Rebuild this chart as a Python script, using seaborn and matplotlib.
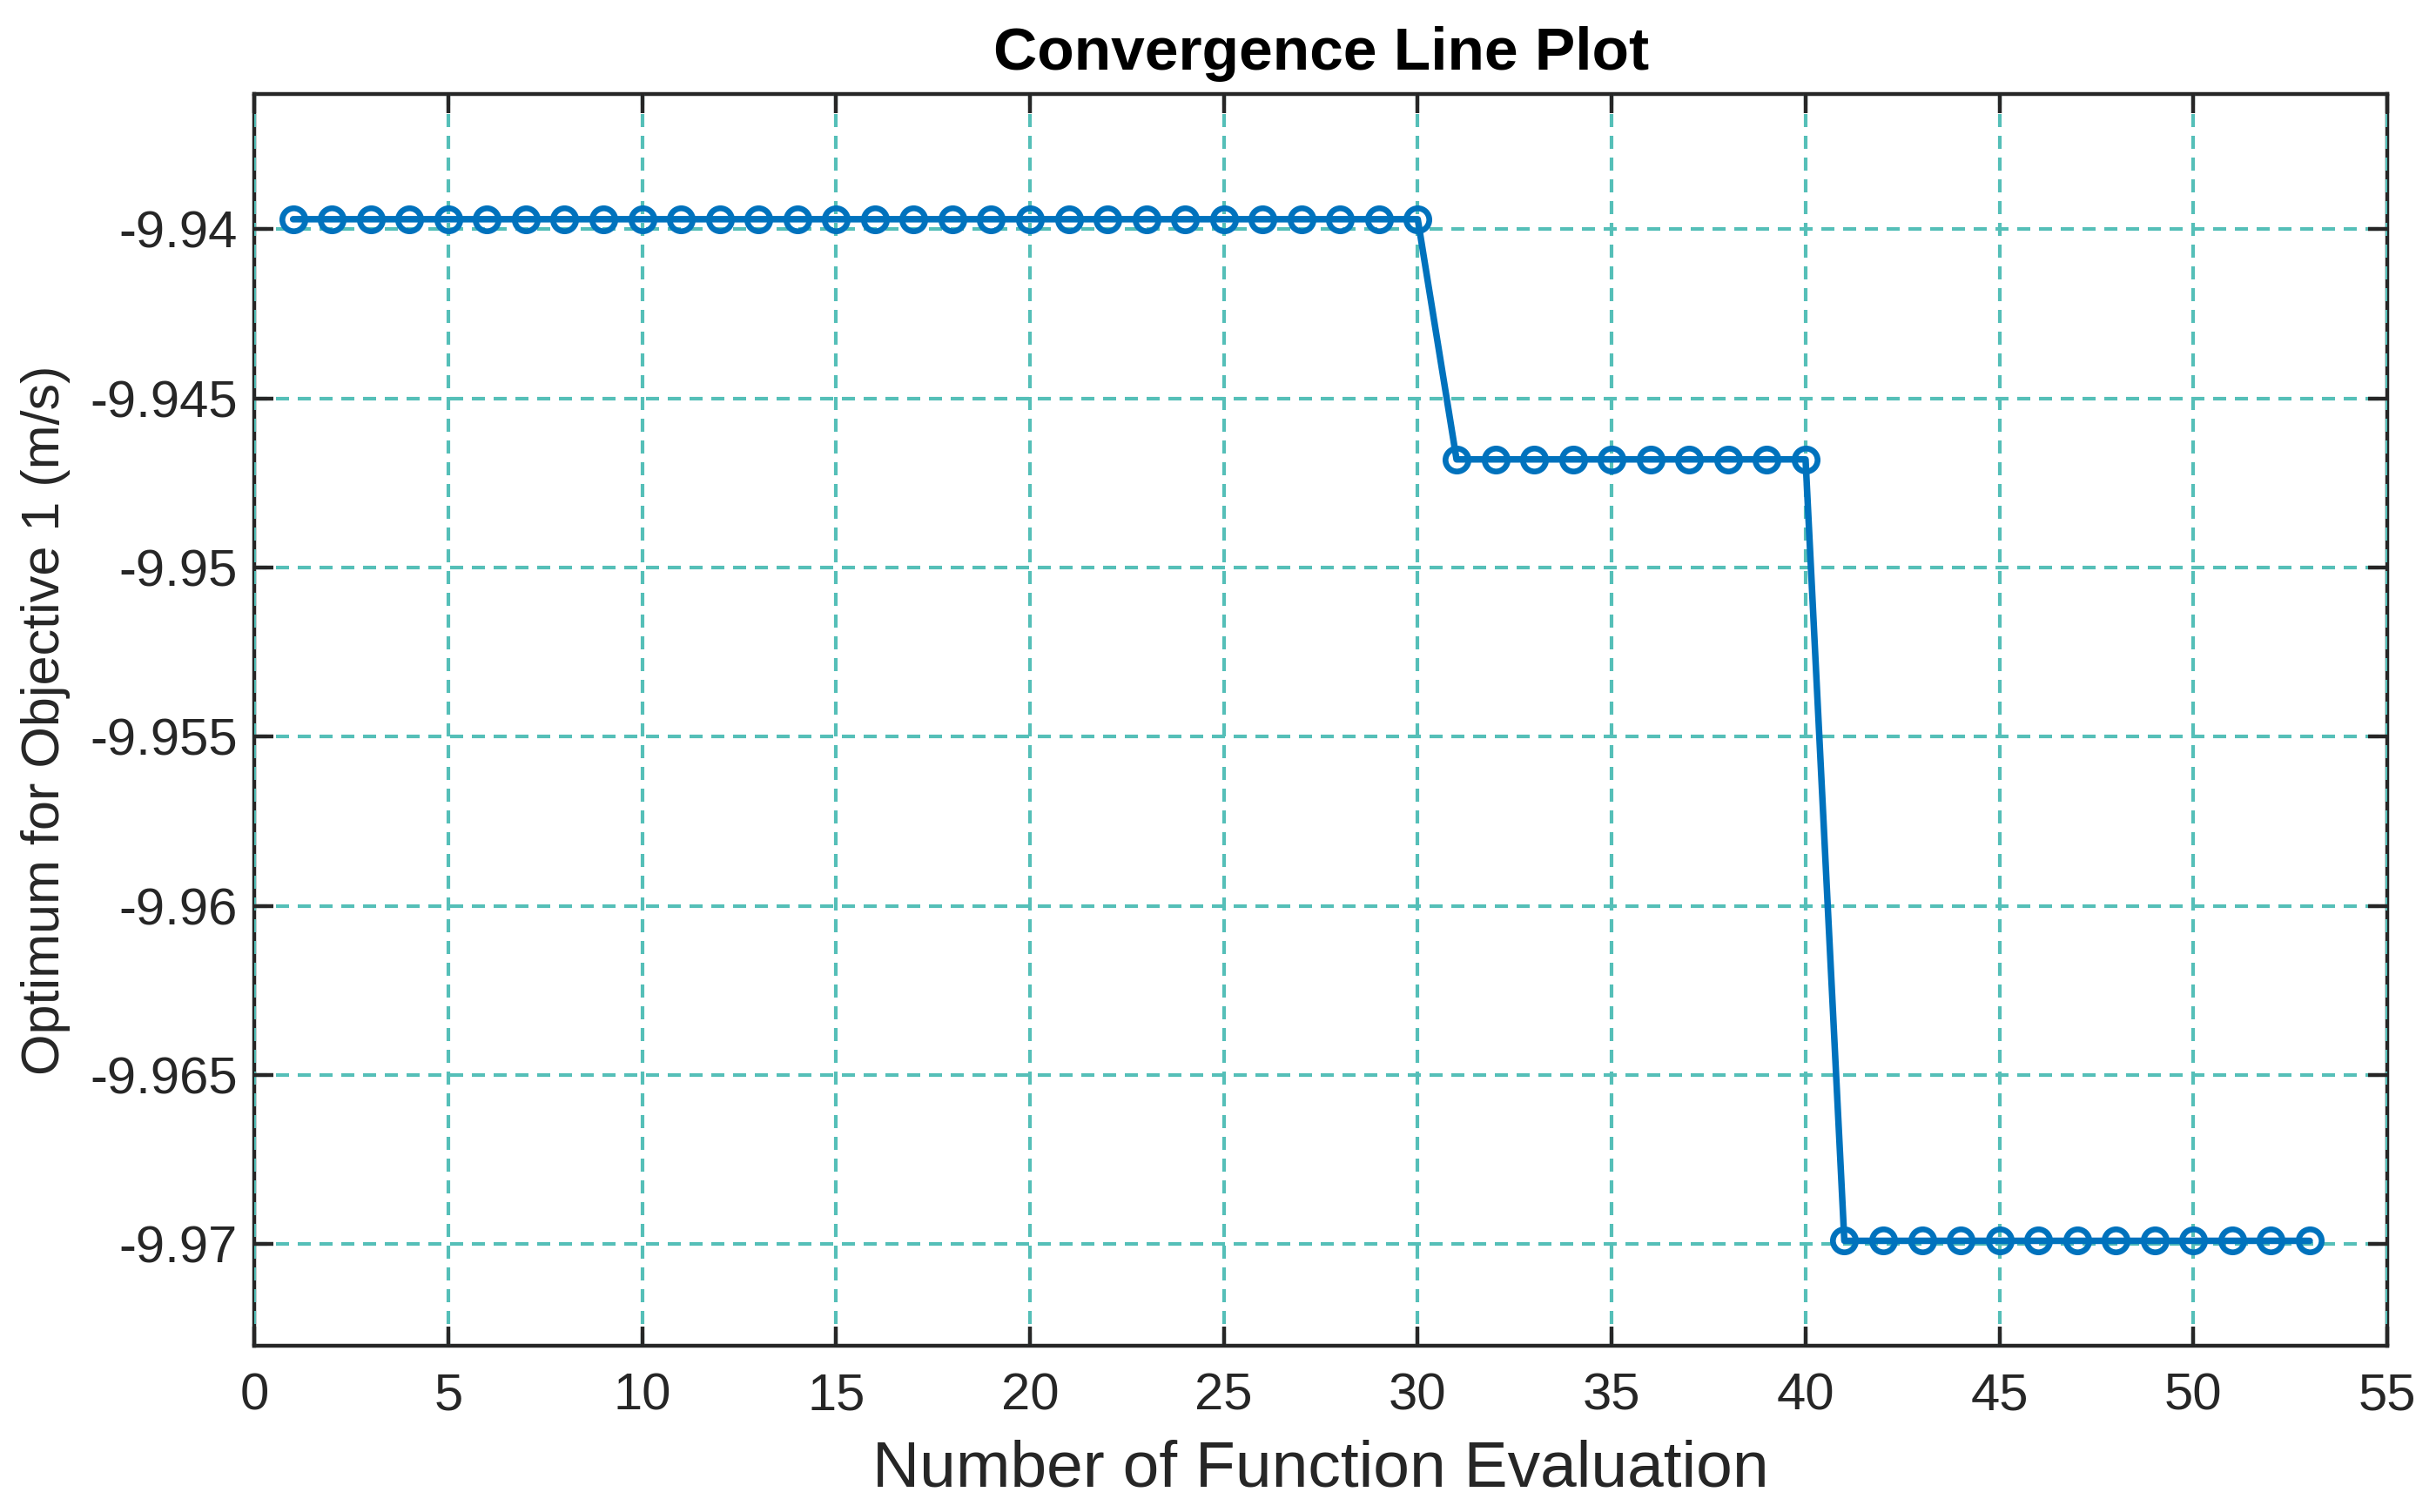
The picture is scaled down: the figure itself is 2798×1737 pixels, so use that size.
import matplotlib
matplotlib.use("Agg")
import matplotlib.pyplot as plt
import seaborn as sns
import pandas as pd

# ---- data ----
evaluations = list(range(1, 54))
optimum = [
    -9.9397, -9.9397, -9.9397, -9.9397, -9.9397, -9.9397, -9.9397, -9.9397, -9.9397, -9.9397,
    -9.9397, -9.9397, -9.9397, -9.9397, -9.9397, -9.9397, -9.9397, -9.9397, -9.9397, -9.9397,
    -9.9397, -9.9397, -9.9397, -9.9397, -9.9397, -9.9397, -9.9397, -9.9397, -9.9397, -9.9397,
    -9.9468, -9.9468, -9.9468, -9.9468, -9.9468, -9.9468, -9.9468, -9.9468, -9.9468, -9.9468,
    -9.9699, -9.9699, -9.9699, -9.9699, -9.9699, -9.9699, -9.9699, -9.9699, -9.9699, -9.9699,
    -9.9699, -9.9699, -9.9699,
]
x_ticks = [0, 5, 10, 15, 20, 25, 30, 35, 40, 45, 50, 55]
y_ticks = [-9.97, -9.965, -9.96, -9.955, -9.95, -9.945, -9.94]
y_tick_labels = ["-9.97", "-9.965", "-9.96", "-9.955", "-9.95", "-9.945", "-9.94"]

title = "Convergence Line Plot"
x_label = "Number of Function Evaluation"
y_label = "Optimum for Objective 1 (m/s)"

df = pd.DataFrame({"eval": evaluations, "opt": optimum})

sns.set_theme(style="white")
plt.rcParams["font.family"] = ["Liberation Sans", "DejaVu Sans"]

fig = plt.figure(figsize=(13.99, 8.685), dpi=200)
ax = fig.add_axes([0.1044, 0.110, 0.8756, 0.8278])

line_color = "#0072BD"
grid_color = "#55BFB8"
axis_color = "#262626"

sns.lineplot(data=df, x="eval", y="opt", ax=ax, color=line_color, linewidth=2.7,
             marker="o", markersize=9.5, markerfacecolor="none",
             markeredgecolor=line_color, markeredgewidth=2.4, zorder=3)

ax.set_xlim(0, 55)
ax.set_ylim(-9.973, -9.936)
ax.set_xticks(x_ticks)
ax.set_yticks(y_ticks)
ax.set_yticklabels(y_tick_labels)

ax.grid(True, which="major", color=grid_color, linestyle=(0, (3.6, 2.4)), linewidth=1.5)
ax.set_axisbelow(False)

for s in ax.spines.values():
    s.set_visible(True)
    s.set_color(axis_color)
    s.set_linewidth(1.6)

ax.tick_params(axis="both", which="major", direction="in", length=8, width=1.6,
               color=axis_color, labelcolor=axis_color, labelsize=21.5,
               top=True, right=True, bottom=True, left=True)
ax.tick_params(axis="x", pad=11)
ax.tick_params(axis="y", pad=7)

ax.set_xlabel(x_label, fontsize=27, color=axis_color, labelpad=8)
ax.set_ylabel(y_label, fontsize=22, color=axis_color, labelpad=8)
ax.set_title(title, fontsize=25, fontweight="bold", color="black", pad=10)

fig.savefig("out.png", dpi=200, facecolor="white")
